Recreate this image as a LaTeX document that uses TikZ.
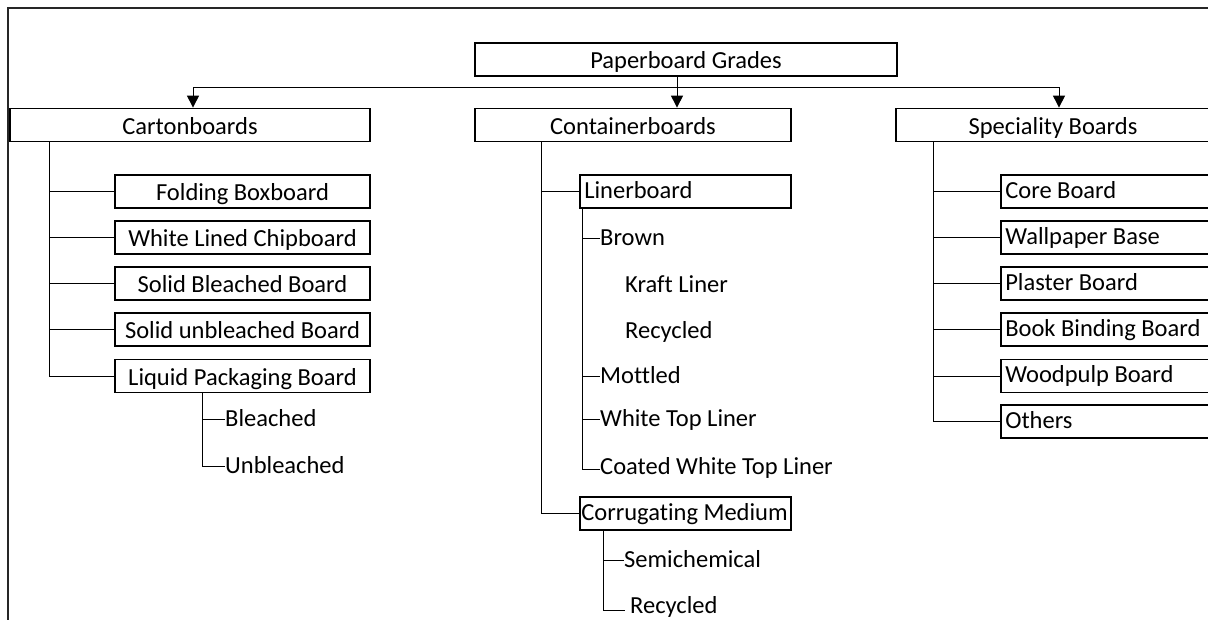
\documentclass[tikz,border=0pt]{standalone}
\usepackage{fontspec}
\setmainfont{Carlito}[Ligatures=NoCommon]
\usetikzlibrary{arrows.meta}
\tikzset{
  bx/.style={draw, line width=1.8pt, minimum height=33pt, inner sep=0pt, text height=18pt, text depth=0pt, font=\fontsize{24.5}{28}\selectfont},
  lbl/.style={inner sep=0pt, text height=15.5pt, text depth=0pt, anchor=west, font=\fontsize{24.5}{28}\selectfont},
  cn/.style={line width=1pt},
  arr/.style={line width=1pt, -{Triangle[width=12pt,length=12pt]}},
  frame/.style={line width=1.5pt, black!85}
}
\begin{document}
\begin{tikzpicture}[x=1pt,y=-1pt]
\useasboundingbox (0,0) rectangle (1208,619);
\draw[frame] (1215,8) -- (8,8) -- (8,625);

% top
\node[bx, minimum width=422pt] (pg) at (686,59.5) {Paperboard Grades};
\node[bx, minimum width=360pt] (cart) at (190,125) {Cartonboards};
\node[bx, minimum width=316pt] (cont) at (633,125) {Containerboards};
\node[bx, minimum width=314pt] (spec) at (1053,125) {Speciality Boards};

\coordinate (bL) at (193,87);
\coordinate (bR) at (1059,87);
\coordinate (bM) at (677,87);
\draw[cn] (bL) -- (bR);
\draw[arr] (bL) -- (cart.north -| bL);
\draw[arr] (bR) -- (spec.north -| bR);
\draw[arr] (pg.south -| bM) -- (cont.north -| bM);

% Cartonboards children
\node[bx, minimum width=255pt] (fold) at (242.5,191.5) {Folding Boxboard};
\node[bx, minimum width=255pt] (wlc) at (242.5,237.5) {White Lined Chipboard};
\node[bx, minimum width=255pt] (sbb) at (242.5,283.5) {Solid Bleached Board};
\node[bx, minimum width=255pt] (sub) at (242.5,329.5) {Solid unbleached Board};
\node[bx, minimum width=255pt] (lpb) at (242.5,376) {Liquid Packaging Board};
\coordinate (ct) at (49,142);
\draw[cn] (cart.south -| ct) |- (lpb.west);
\foreach \n in {fold,wlc,sbb,sub} \draw[cn] (ct |- \n.west) -- (\n.west);

\node[lbl] (blch) at (225,419) {Bleached};
\node[lbl] (ublch) at (225,466) {Unbleached};
\coordinate (lt) at (202,393);
\draw[cn] (lpb.south -| lt) |- (ublch.west);
\draw[cn] (lt |- blch.west) -- (blch.west);

% Containerboards children
\node[bx, minimum width=211pt] (liner) at (685.5,191.5) {};
\node[lbl] (linerT) at ([xshift=5pt,yshift=1pt]liner.west) {Linerboard};
\node[bx, minimum width=211pt] (corr) at (685.5,513.5) {};
\node[lbl] (corrT) at ([xshift=2pt,yshift=1pt]corr.west) {Corrugating Medium};
\coordinate (kt) at (541,142);
\draw[cn] (cont.south -| kt) |- (corr.west);
\draw[cn] (kt |- liner.west) -- (liner.west);

\node[lbl] (brown) at (600,238) {Brown};
\node[lbl] (kraft) at (625,285) {Kraft Liner};
\node[lbl] (recl) at (625,331) {Recycled};
\node[lbl] (mott) at (600,376) {Mottled};
\node[lbl] (wtl) at (600,419) {White Top Liner};
\node[lbl] (cwtl) at (600,467) {Coated White Top Liner};
\coordinate (nt) at (582,208);
\draw[cn] (liner.south -| nt) |- ([yshift=-2pt]cwtl.west);
\foreach \n in {brown,mott,wtl} \draw[cn] (nt |- \n.west) -- (\n.west);

\node[lbl] (semi) at (624,560) {Semichemical};
\node[lbl] (recm) at (630,606) {Recycled};
\coordinate (mt) at (603,530);
\draw[cn] (corr.south -| mt) |- ([xshift=-5pt,yshift=-4pt]recm.west);
\draw[cn] (mt |- semi.west) -- (semi.west);

% Speciality children
\foreach \n/\y/\t in {core/191.5/Core Board, wall/237.5/Wallpaper Base, plas/283.5/Plaster Board, book/329.5/Book Binding Board, wood/376/Woodpulp Board, oth/421.5/Others}{
  \node[bx, minimum width=214pt] (\n) at (1108,\y) {};
  \node[lbl] (\n T) at ([xshift=5pt,yshift=1pt]\n.west) {\t};
}
\coordinate (st) at (933,142);
\draw[cn] (spec.south -| st) |- (oth.west);
\foreach \n in {core,wall,plas,book,wood} \draw[cn] (st |- \n.west) -- (\n.west);
\end{tikzpicture}
\end{document}
